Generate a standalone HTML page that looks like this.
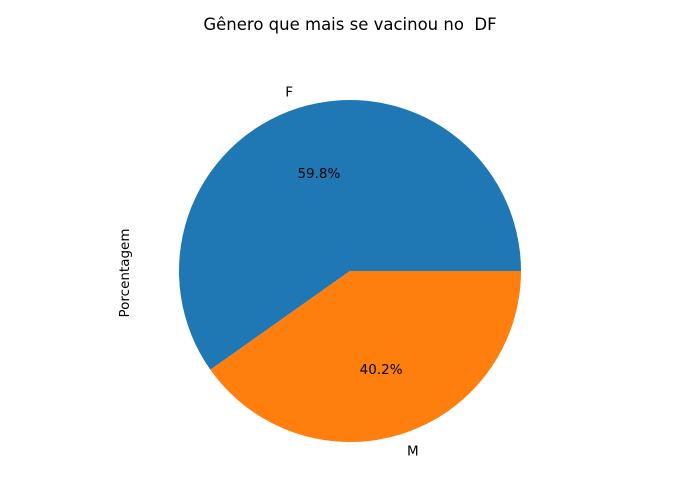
<!DOCTYPE html>
<html><head><meta charset="utf-8"><style>body{margin:0;background:#fff}svg{display:block;font-family:"DejaVu Sans","Liberation Sans",sans-serif}</style></head>
<body>
<svg id="chart" width="700" height="500">
<text x="350" y="30" text-anchor="middle" font-size="16.5" style="white-space:pre">Gênero que mais se vacinou no  DF</text>
<text transform="translate(129,273) rotate(-90)" text-anchor="middle" font-size="13.5">Porcentagem</text>
<g id="slices"></g>
</svg>
<script>
const categories = ["F", "M"];
const values = [59.8, 40.2];
const colors = ["#1f77b4", "#ff7f0e"];
const cx = 350, cy = 271, r = 171;
const g = document.getElementById('slices');
const ns = 'http://www.w3.org/2000/svg';
const total = values.reduce((a, b) => a + b, 0);
let start = 0;
function pt(a, rr) { return [cx + rr * Math.cos(a), cy - rr * Math.sin(a)]; }
values.forEach((v, i) => {
  const sweep = v / total * 2 * Math.PI;
  const end = start + sweep;
  const p1 = pt(start, r), p2 = pt(end, r);
  const large = sweep > Math.PI ? 1 : 0;
  const path = document.createElementNS(ns, 'path');
  path.setAttribute('d', `M${cx},${cy} L${p1[0]},${p1[1]} A${r},${r} 0 ${large} 0 ${p2[0]},${p2[1]} Z`);
  path.setAttribute('fill', colors[i]);
  
  
  g.appendChild(path);
  const mid = (start + end) / 2;
  const lp = pt(mid, r * 1.1);
  const lab = document.createElementNS(ns, 'text');
  lab.setAttribute('x', lp[0]); lab.setAttribute('y', lp[1] + 5);
  lab.setAttribute('text-anchor', Math.cos(mid) < 0 ? 'end' : 'start');
  lab.setAttribute('font-size', '13.5');
  lab.textContent = categories[i];
  
  
  g.appendChild(lab);
  const pp = pt(mid, r * 0.6);
  const pc = document.createElementNS(ns, 'text');
  pc.setAttribute('x', pp[0]); pc.setAttribute('y', pp[1] + 5);
  pc.setAttribute('text-anchor', 'middle');
  pc.setAttribute('font-size', '13.5');
  pc.textContent = v.toFixed(1) + '%';
  
  
  g.appendChild(pc);
  start = end;
});
</script>
</body></html>
